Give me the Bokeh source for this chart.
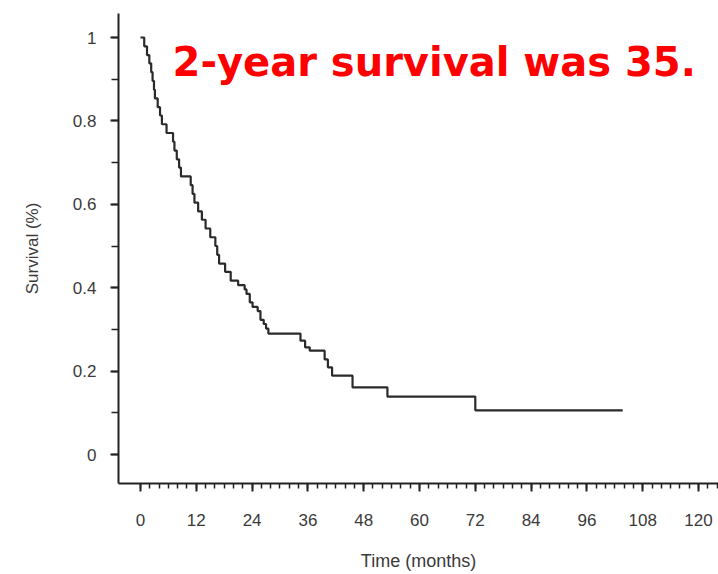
from bokeh.plotting import figure
from bokeh.models import FixedTicker, Range1d, Label, CustomJSTickFormatter
from bokeh.embed import file_html
from bokeh.resources import INLINE

# Kaplan-Meier step data: event times (months) and survival after each event
times = [0, 0.8, 1.4, 1.9, 2.3, 2.6, 2.9, 3.1, 3.7, 4.2, 4.6, 5.6, 7.0, 7.3, 7.8,
         8.3, 8.7, 10.8, 11.2, 11.6, 12.4, 13.2, 14.0, 15.0, 16.1, 16.5, 16.9,
         18.2, 19.4, 21.0, 22.4, 22.8, 23.5, 24.1, 25.2, 25.8, 26.5, 27.0, 27.5,
         34.4, 35.4, 36.4, 39.6, 40.3, 41.2, 45.6, 53.1, 72.0]
survival = [1.0, 0.979, 0.958, 0.938, 0.917, 0.896, 0.875, 0.854, 0.833, 0.813,
            0.792, 0.771, 0.750, 0.729, 0.708, 0.688, 0.667, 0.646, 0.625, 0.604,
            0.583, 0.563, 0.542, 0.521, 0.500, 0.479, 0.458, 0.438, 0.417, 0.406,
            0.396, 0.385, 0.365, 0.354, 0.344, 0.323, 0.313, 0.302, 0.290,
            0.273, 0.257, 0.249, 0.228, 0.209, 0.189, 0.161, 0.139, 0.106]
last_followup = 103.7

x_ticks = [0, 12, 24, 36, 48, 60, 72, 84, 96, 108, 120]
x_minor = list(range(0, 125, 2))
y_ticks = [0, 0.2, 0.4, 0.6, 0.8, 1.0]
y_minor = [0, 0.1, 0.2, 0.3, 0.4, 0.5, 0.6, 0.7, 0.8, 0.9, 1.0]

headline = "2-year survival was 35."

p = figure(width=718, height=574,
           x_range=Range1d(-4.73, 124.3), y_range=Range1d(-0.0695, 1.0576),
           output_backend="svg", toolbar_location=None,
           min_border_left=118, min_border_right=0,
           min_border_top=13, min_border_bottom=91)
p.outline_line_color = None
p.xgrid.visible = False
p.ygrid.visible = False
p.background_fill_color = "white"
p.border_fill_color = "white"

xs = times + [last_followup]
ys = survival + [survival[-1]]
p.step(xs, ys, mode="after", line_color="#2a2a2a", line_width=2.2)

tick_font = "Liberation Sans"
for ax in (p.xaxis[0], p.yaxis[0]):
    ax.axis_line_color = "#222222"
    ax.axis_line_width = 2
    ax.major_tick_line_color = "#222222"
    ax.major_tick_line_width = 2
    ax.minor_tick_line_color = "#222222"
    ax.minor_tick_line_width = 1.5
    ax.major_tick_in = 0
    ax.minor_tick_in = 0
    ax.major_label_text_font = tick_font
    ax.major_label_text_color = "#3a3a3a"
    ax.axis_label_text_font = tick_font
    ax.axis_label_text_color = "#3a3a3a"
    ax.axis_label_text_font_style = "normal"

xa = p.xaxis[0]
xa.ticker = FixedTicker(ticks=x_ticks, minor_ticks=x_minor)
xa.major_tick_out = 8
xa.minor_tick_out = 5
xa.major_label_text_font_size = "17px"
xa.major_label_standoff = 22
xa.axis_label = "Time (months)"
xa.axis_label_text_font_size = "18px"
xa.axis_label_standoff = 22

ya = p.yaxis[0]
ya.ticker = FixedTicker(ticks=y_ticks, minor_ticks=y_minor)
ya.formatter = CustomJSTickFormatter(code="return String(Math.round(tick*10)/10);")
ya.major_tick_out = 8
ya.minor_tick_out = 7
ya.major_label_text_font_size = "17px"
ya.major_label_standoff = 14
ya.axis_label = "Survival (%)"
ya.axis_label_text_font_size = "17px"
ya.axis_label_standoff = 28

title = Label(x=6.9, y=0.942, text=headline, text_color="#ff0000",
              text_font="DejaVu Sans", text_font_style="bold",
              text_font_size="40px", text_baseline="alphabetic")
p.add_layout(title)

open("out.html", "w").write(file_html(p, INLINE))
